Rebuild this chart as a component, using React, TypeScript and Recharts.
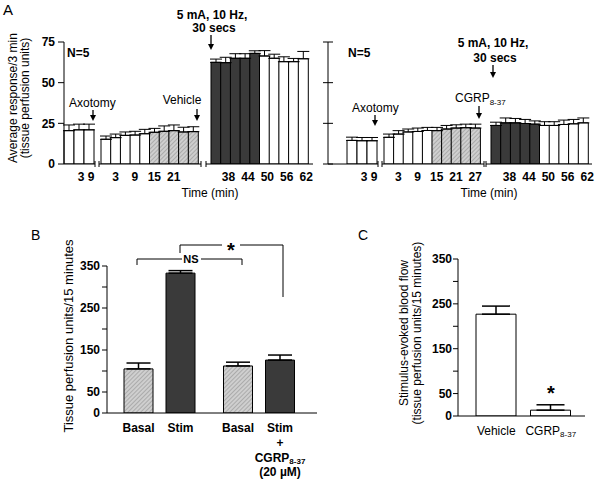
import React from "react";
import { Bar, BarChart, Cell, ErrorBar, LabelList, XAxis, YAxis } from "recharts";

const FONT = "'Liberation Sans', Arial, Helvetica, sans-serif";

// ---- Panel A: average response per 3 min bin (tissue perfusion units) ----
// phase: ctl = untreated, drug = vehicle / CGRP8-37 on, stim = stimulation
const vehAxoVals = [20.5, 21, 21];
const vehAxoErr = [3.5, 3.5, 3.5];
const vehPreVals = [15.2, 16.2, 17.6, 17.8, 18.6, 19.5, 20.1, 20.5, 19.7, 19.9];
const vehPreErr = [2, 2.2, 2.1, 2.3, 2.7, 2.4, 3.3, 3.5, 2.9, 3];
const vehStimVals = [62.5, 62.3, 65, 65, 68, 66.4, 65, 62.9, 62.9, 64.7];
const vehStimErr = [2, 3.3, 2.8, 2.8, 1.6, 3.3, 2.5, 3, 2, 4.5];

const cgrpAxoVals = [14.5, 14.3, 14.3];
const cgrpAxoErr = [2, 2, 2];
const cgrpPreVals = [16.4, 18.4, 19.7, 20, 20.6, 20.5, 21.5, 22.1, 22.3, 22.1];
const cgrpPreErr = [2, 2.1, 1.8, 2.1, 1.9, 2, 2.2, 2, 2.2, 2.4];
const cgrpStimVals = [23.7, 25.3, 25.3, 24.9, 24.5, 23.7, 23.7, 24.3, 24.7, 25.3];
const cgrpStimErr = [2, 3, 2.7, 2.5, 2, 2.3, 2.3, 2.7, 2.7, 3];

const axoPhases = ["ctl", "ctl", "ctl"];
const prePhases = ["ctl", "ctl", "ctl", "ctl", "ctl", "drug", "drug", "drug", "drug", "drug"];
const stimPhases = ["stim", "stim", "stim", "stim", "stim", "ctl", "ctl", "ctl", "ctl", "ctl"];

const axoTicks = ["", "3", "9"];
const vehPreTicks = ["", "3", "", "9", "", "15", "", "21", "", ""];
const cgrpPreTicks = ["", "3", "", "9", "", "15", "", "21", "", "27"];
const stimTicks = ["", "38", "", "44", "", "50", "", "56", "", "62"];
const aTicks = [0, 25, 50, 75];

// ---- Panel B ----
const bGroups = ["vehicle", "cgrp"];
const bBasal = [105, 112];
const bBasalErr = [14, 9];
const bStim = [333, 126];
const bStimErr = [6, 12];
const bBasalNames = ["Basal", "Basal"];
const bStimNames = ["Stim", "Stim|+|CGRP8-37|(20 µM)"];

// ---- Panel C ----
const cNames = ["Vehicle", "CGRP8-37"];
const cVals = [227, 13];
const cErr = [18, 12];

const flowTicks = [0, 50, 100, 150, 200, 250, 300, 350];
const flowLabelled = [0, 50, 150, 250, 350];

const DARK = "#3a3a3a";

function Hatch({ id }: { id: string }) {
  return (
    <pattern id={id} width={3} height={3} patternUnits="userSpaceOnUse" patternTransform="rotate(45)">
      <rect width={3} height={3} fill="#cfcfcf" />
      <line x1={0} y1={0} x2={0} y2={3} stroke="#888" strokeWidth={1} />
    </pattern>
  );
}

function fillFor(phase: string, hatchId: string) {
  if (phase === "stim") return DARK;
  if (phase === "drug") return `url(#${hatchId})`;
  return "#ffffff";
}

function withSub(s: string) {
  if (s.endsWith("8-37")) {
    return [
      s.slice(0, -4),
      <tspan key="s" fontSize={8} dy={2}>
        8-37
      </tspan>,
    ];
  }
  return s;
}

type SegProps = {
  id: string;
  left: number;
  width: number;
  values: number[];
  errs: number[];
  phases: string[];
  ticks: string[];
  padL: number;
  padR: number;
  axis: "labels" | "cross" | "none";
  axisW?: number;
  tickDx?: number;
  spare?: number;
};

function Segment({ id, left, width, values, errs, phases, ticks, padL, padR, axis, axisW = 0, tickDx = 0, spare = 0 }: SegProps) {
  const rows = values.map((v, i) => ({ i, v, e: [0, errs[i]] }));
  return (
    <div style={{ position: "absolute", left, top: 0 }}>
      <BarChart width={width + spare} height={194} data={rows} margin={{ top: 42, right: spare, bottom: 5, left: 0 }} barCategoryGap={0} barGap={0}>
        <defs>
          <Hatch id={id} />
        </defs>
        <XAxis
          dataKey="i"
          height={25}
          interval={0}
          padding={{ left: padL, right: padR }}
          stroke="#000"
          tickLine={false}
          tickSize={6}
          tickMargin={2}
          tick={(p: any) => (
            <text x={p.x + tickDx} y={p.y} dy="0.71em" textAnchor="middle" fontSize={12} fontWeight="bold" fill="#000">
              {ticks[p.payload.value]}
            </text>
          )}
        />
        {axis === "labels" && (
          <YAxis
            width={axisW}
            domain={[0, 75]}
            ticks={aTicks}
            interval={0}
            allowDataOverflow
            stroke="#000"
            tickSize={6}
            tickMargin={3}
            tick={{ fontSize: 12, fontWeight: "bold", fill: "#000" }}
          />
        )}
        {axis === "cross" && (
          <YAxis
            width={axisW}
            domain={[0, 75]}
            ticks={aTicks}
            interval={0}
            allowDataOverflow
            stroke="#000"
            tickLine={false}
            tickSize={0}
            tickMargin={0}
            tick={(p: any) => <line x1={p.x - 5} x2={p.x + 5} y1={p.y} y2={p.y} stroke="#000" />}
          />
        )}
        {axis === "none" && <YAxis hide domain={[0, 75]} allowDataOverflow />}
        <Bar dataKey="v" stroke="#000" strokeWidth={1} isAnimationActive={false}>
          {rows.map((r) => (
            <Cell key={r.i} fill={fillFor(phases[r.i], id)} />
          ))}
          <ErrorBar dataKey="e" width={6} stroke="#000" strokeWidth={1} direction="y" />
        </Bar>
      </BarChart>
    </div>
  );
}

const nameOffsets = [19, 34, 49, 63];

function BarName(p: any) {
  const vb = p.viewBox && p.viewBox.width != null ? p.viewBox : p;
  const cx = vb.x + vb.width / 2;
  const base = vb.y + vb.height;
  const lines = String(p.value).split("|");
  return (
    <g>
      {lines.map((s, k) => (
        <text key={k} x={cx} y={base + nameOffsets[k]} textAnchor="middle" fontSize={12} fontWeight="bold" fill="#000">
          {withSub(s)}
        </text>
      ))}
    </g>
  );
}

function PanelB() {
  const rows = bGroups.map((g, i) => ({
    g,
    basal: bBasal[i],
    basalE: [0, bBasalErr[i]],
    basalName: bBasalNames[i],
    stim: bStim[i],
    stimE: [0, bStimErr[i]],
    stimName: bStimNames[i],
  }));
  return (
    <div style={{ position: "absolute", left: 0, top: 200 }}>
      <BarChart width={330} height={285} data={rows} margin={{ top: 66, right: 13, bottom: 71, left: 0 }} barSize={29} barGap={13}>
        <defs>
          <Hatch id="hatchB" />
        </defs>
        <XAxis dataKey="g" height={1} tick={false} tickLine={false} padding={{ left: 3, right: 8 }} stroke="#000" />
        <YAxis
          width={107}
          domain={[0, 350]}
          ticks={flowTicks}
          interval={0}
          allowDataOverflow
          tickFormatter={(v: number) => (flowLabelled.includes(v) ? String(v) : "")}
          stroke="#000"
          tickSize={5}
          tickMargin={2}
          tick={{ fontSize: 12, fontWeight: "bold", fill: "#000" }}
        />
        <Bar dataKey="basal" fill="url(#hatchB)" stroke="#000" strokeWidth={1} isAnimationActive={false}>
          <ErrorBar dataKey="basalE" width={12} stroke="#000" strokeWidth={1.5} direction="y" />
          <LabelList dataKey="basalName" content={BarName} />
        </Bar>
        <Bar dataKey="stim" fill={DARK} stroke="#000" strokeWidth={1} isAnimationActive={false}>
          <ErrorBar dataKey="stimE" width={12} stroke="#000" strokeWidth={1.5} direction="y" />
          <LabelList dataKey="stimName" content={BarName} />
        </Bar>
      </BarChart>
    </div>
  );
}

function PanelC() {
  const rows = cNames.map((name, i) => ({ name, v: cVals[i], e: [0, cErr[i]] }));
  return (
    <div style={{ position: "absolute", left: 330, top: 200 }}>
      <BarChart width={270} height={285} data={rows} margin={{ top: 59, right: 15, bottom: 39, left: 0 }} barSize={40}>
        <XAxis
          dataKey="name"
          height={30}
          interval={0}
          padding={{ left: 11, right: 7 }}
          stroke="#000"
          tickLine={false}
          tickSize={6}
          tickMargin={4}
          tick={(p: any) => (
            <text x={p.x} y={p.y} dy="0.71em" textAnchor="middle" fontSize={12} fill="#000">
              {withSub(String(p.payload.value))}
            </text>
          )}
        />
        <YAxis
          width={128}
          domain={[0, 350]}
          ticks={flowTicks}
          interval={0}
          allowDataOverflow
          tickFormatter={(v: number) => (flowLabelled.includes(v) ? String(v) : "")}
          stroke="#000"
          tickSize={5}
          tickMargin={1}
          tick={{ fontSize: 12, fontWeight: "bold", fill: "#000" }}
        />
        <Bar dataKey="v" fill="#ffffff" stroke="#000" strokeWidth={1} isAnimationActive={false}>
          <ErrorBar dataKey="e" width={14} stroke="#000" strokeWidth={1.5} direction="y" />
        </Bar>
      </BarChart>
    </div>
  );
}

function Arrow({ x, y1, y2 }: { x: number; y1: number; y2: number }) {
  return (
    <g>
      <line x1={x} x2={x} y1={y1} y2={y2 - 4} stroke="#000" strokeWidth={1.3} />
      <polygon points={`${x - 3},${y2 - 6} ${x + 3},${y2 - 6} ${x},${y2}`} fill="#000" />
    </g>
  );
}

function Overlay() {
  const breaks = [95, 99, 201, 206, 378, 382, 484, 486];
  return (
    <svg width={600} height={485} style={{ position: "absolute", left: 0, top: 0, pointerEvents: "none" }} fontFamily={FONT} fill="#000">
      <text x={3} y={15} fontSize={15}>A</text>
      {breaks.map((x) => (
        <line key={x} x1={x} x2={x} y1={161} y2={167} stroke="#000" />
      ))}
      <g fontSize={12}>
        <text transform="rotate(-90 17 98)" x={17} y={98} textAnchor="middle">Average response/3  min</text>
        <text transform="rotate(-90 29 98)" x={29} y={98} textAnchor="middle">(tissue perfusion units)</text>
        <text x={67} y={57} fontWeight="bold">N=5</text>
        <text x={69} y={107}>Axotomy</text>
        <text x={182} y={104} textAnchor="middle">Vehicle</text>
        <text x={212} y={19} textAnchor="middle" fontWeight="bold">5 mA, 10 Hz,</text>
        <text x={214} y={32} textAnchor="middle" fontWeight="bold">30 secs</text>
        <text x={210} y={197} textAnchor="middle">Time (min)</text>

        <text x={348} y={57} fontWeight="bold">N=5</text>
        <text x={352} y={112}>Axotomy</text>
        <text x={455} y={102}>
          CGRP<tspan fontSize={8} dy={3}>8-37</tspan>
        </text>
        <text x={493} y={47} textAnchor="middle" fontWeight="bold">5 mA, 10 Hz,</text>
        <text x={495} y={62} textAnchor="middle" fontWeight="bold">30 secs</text>
        <text x={489} y={197} textAnchor="middle">Time (min)</text>
      </g>
      <Arrow x={93} y1={110} y2={121} />
      <Arrow x={197} y1={109} y2={121} />
      <Arrow x={211} y1={35} y2={50} />
      <Arrow x={375} y1={115} y2={126} />
      <Arrow x={479} y1={106} y2={119} />
      <Arrow x={493} y1={65} y2={78} />

      <text x={31} y={240} fontSize={14}>B</text>
      <text transform="rotate(-90 73 336)" x={73} y={336} textAnchor="middle" fontSize={13}>
        Tissue perfusion units/15 minutes
      </text>
      <g fill="none" stroke="#000" strokeWidth={1}>
        <polyline points="137,265 137,259 182,259" />
        <polyline points="201,259 242,259 242,265" />
        <polyline points="180,253 180,245 222,245" />
        <polyline points="240,245 283,245 283,297" />
      </g>
      <text x={191} y={263} textAnchor="middle" fontSize={11} fontWeight="bold">NS</text>
      <text x={231} y={257} textAnchor="middle" fontSize={20} fontWeight="bold">*</text>

      <text x={358} y={240} fontSize={14}>C</text>
      <g fontSize={12}>
        <text transform="rotate(-90 408 333)" x={408} y={333} textAnchor="middle">Stimulus-evoked blood flow</text>
        <text transform="rotate(-90 421 333)" x={421} y={333} textAnchor="middle">(tissue perfusion units/15 minutes)</text>
      </g>
      <text x={551} y={400} textAnchor="middle" fontSize={20} fontWeight="bold">*</text>
    </svg>
  );
}

export default function App() {
  return (
    <div style={{ position: "absolute", left: 0, top: 0, width: 600, height: 485, background: "#fff", fontFamily: FONT }}>
      <Segment id="h1" left={0} width={95} values={vehAxoVals} errs={vehAxoErr} phases={axoPhases} ticks={axoTicks} padL={0} padR={1} axis="labels" axisW={64} tickDx={2} />
      <Segment id="h2" left={99} width={102} values={vehPreVals} errs={vehPreErr} phases={prePhases} ticks={vehPreTicks} padL={2} padR={3} axis="none" />
      <Segment id="h3" left={206} width={107} values={vehStimVals} errs={vehStimErr} phases={stimPhases} ticks={stimTicks} padL={5} padR={5} axis="none" tickDx={3} />
      <Segment id="h4" left={300} width={78} values={cgrpAxoVals} errs={cgrpAxoErr} phases={axoPhases} ticks={axoTicks} padL={19} padR={1} axis="cross" axisW={28} tickDx={2} />
      <Segment id="h5" left={382} width={102} values={cgrpPreVals} errs={cgrpPreErr} phases={prePhases} ticks={cgrpPreTicks} padL={2} padR={4} axis="none" />
      <Segment id="h6" left={486} width={106} values={cgrpStimVals} errs={cgrpStimErr} phases={stimPhases} ticks={stimTicks} padL={5} padR={4} axis="none" tickDx={4} spare={8} />
      <PanelB />
      <PanelC />
      <Overlay />
    </div>
  );
}
